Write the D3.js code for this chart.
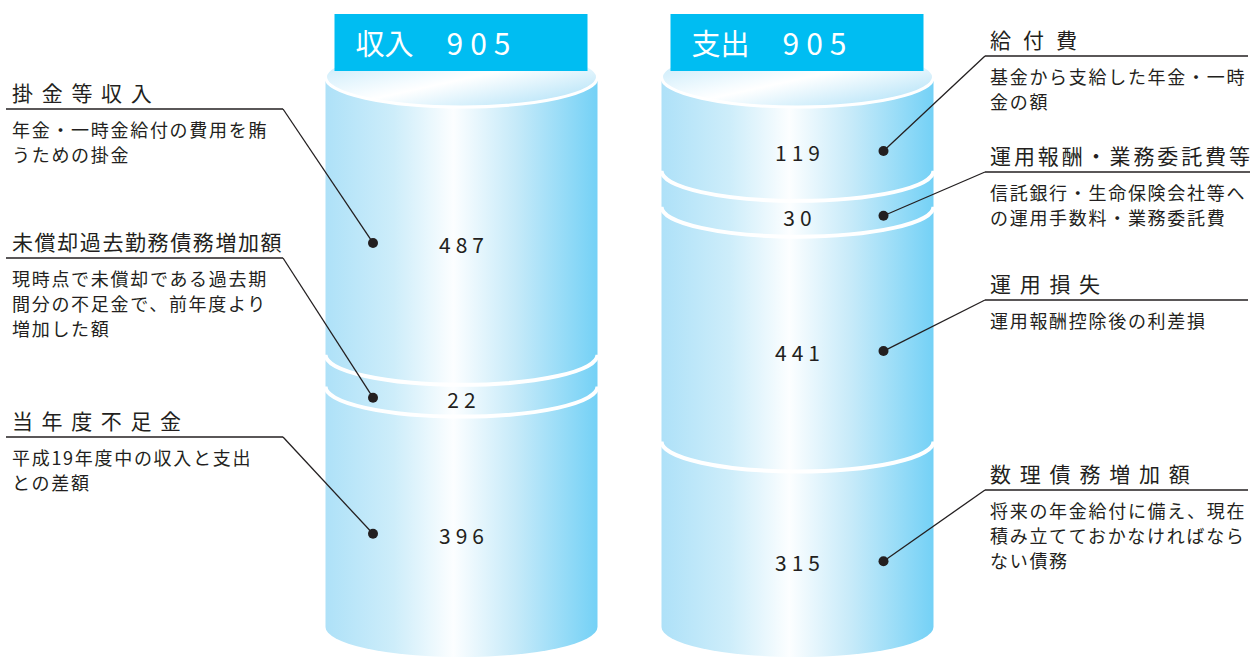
<!DOCTYPE html>
<html>
<head>
<meta charset="utf-8">
<title>収入と支出</title>
<script src="https://d3js.org/d3.v7.min.js"></script>
<style>
  body { margin: 0; background: #fff; }
  text { font-family: "Noto Sans CJK JP", "Noto Sans", sans-serif; fill: #231f20; }
</style>
</head>
<body>
<div id="chart"></div>
<script>
// ---- data ----
var sideNames = ["収入", "支出"];

var incomeLabels = ["掛金等収入", "未償却過去勤務債務増加額", "当年度不足金"];
var incomeValues = [487, 22, 396];
var incomeNotes = [
    ["年金・一時金給付の費用を賄", "うための掛金"],
    ["現時点で未償却である過去期", "間分の不足金で、前年度より", "増加した額"],
    ["平成19年度中の収入と支出", "との差額"]
];

var expenseLabels = ["給付費", "運用報酬・業務委託費等", "運用損失", "数理債務増加額"];
var expenseValues = [119, 30, 441, 315];
var expenseNotes = [
    ["基金から支給した年金・一時", "金の額"],
    ["信託銀行・生命保険会社等へ", "の運用手数料・業務委託費"],
    ["運用報酬控除後の利差損"],
    ["将来の年金給付に備え、現在", "積み立てておかなければなら", "ない債務"]
];

// ---- layout ----
var width = 1260, height = 657;
var rx = 136, ry = 30;
var topY = 77, bottomY = 627;

// where the side notes sit (y of each underline) and title letter spacing
var incomeRuleY = [109, 258, 437];
var expenseRuleY = [56, 172, 300, 490];
var incomeTitleSpacing = [8.7, 1.6, 8.6];
var expenseTitleSpacing = [12, 2.9, 8.7, 8.8];

var svg = d3.select("#chart")
    .append("svg")
    .attr("width", width)
    .attr("height", height);

var defs = svg.append("defs");

var sideGrad = defs.append("linearGradient")
    .attr("id", "side")
    .attr("x1", "0%").attr("y1", "0%")
    .attr("x2", "100%").attr("y2", "0%");
[[0, "#aee1f8"], [0.25, "#cdedfa"], [0.47, "#fcfeff"], [0.7, "#c6eaf9"], [1, "#74d1f6"]]
    .forEach(function(s) {
        sideGrad.append("stop").attr("offset", s[0]).attr("stop-color", s[1]);
    });

var capGrad = defs.append("linearGradient")
    .attr("id", "cap")
    .attr("x1", "0%").attr("y1", "0%")
    .attr("x2", "100%").attr("y2", "100%");
[[0, "#b7e4f8"], [0.45, "#f6fcff"], [0.52, "#ffffff"], [1, "#a6def7"]]
    .forEach(function(s) {
        capGrad.append("stop").attr("offset", s[0]).attr("stop-color", s[1]);
    });

// centre of each cylinder
var cylX = d3.scalePoint().domain(sideNames).range([461.5, 797.5]);

// slice thickness: power scale so thin slices stay readable
var thick = d3.scalePow().exponent(0.7).domain([0, 905]).range([0, 1]);

function drawCylinder(name, values, labels, notes, ruleY, spacing, dir) {
    var cx = cylX(name);
    var total = d3.sum(values);
    var h = values.map(thick);
    var ends = d3.cumsum(h);
    var y = d3.scaleLinear().domain([0, ends[ends.length - 1]]).range([topY, bottomY]);

    var segs = values.map(function(v, i) {
        var y0 = y(ends[i] - h[i]), y1 = y(ends[i]);
        return { value: v, y0: y0, y1: y1, mid: (y0 + y1) / 2 + ry,
                 label: labels[i], note: notes[i], ruleY: ruleY[i], spacing: spacing[i] };
    });

    var g = svg.append("g");

    // body
    g.append("path")
        .attr("d", "M" + (cx - rx) + "," + topY +
                   "L" + (cx - rx) + "," + bottomY +
                   "A" + rx + "," + ry + " 0 0 0 " + (cx + rx) + "," + bottomY +
                   "L" + (cx + rx) + "," + topY + "Z")
        .attr("fill", "url(#side)");

    // white seams between slices
    g.selectAll("path.seam")
        .data(segs.slice(1))
        .enter()
        .append("path")
        .attr("class", "seam")
        .attr("d", function(d) {
            return "M" + (cx - rx) + "," + d.y0 +
                   "A" + rx + "," + ry + " 0 0 0 " + (cx + rx) + "," + d.y0;
        })
        .attr("fill", "none")
        .attr("stroke", "#fff")
        .attr("stroke-width", 4);

    // top cap
    g.append("ellipse")
        .attr("cx", cx).attr("cy", topY)
        .attr("rx", rx).attr("ry", ry)
        .attr("fill", "url(#cap)")
        .attr("stroke", "#fff")
        .attr("stroke-width", 3);

    // header box
    var bx = cx - rx + 9;
    g.append("rect")
        .attr("x", bx).attr("y", 14)
        .attr("width", 253).attr("height", 57)
        .attr("fill", "#00bdf2");
    g.append("text")
        .attr("x", bx + 21).attr("y", 55)
        .style("font-size", "29px")
        .style("fill", "#fff")
        .text(name);
    g.append("text")
        .attr("x", bx + 112).attr("y", 55)
        .style("font-size", "30px")
        .style("letter-spacing", "7px")
        .style("fill", "#fff")
        .text(total);

    // slice values
    g.selectAll("text.val")
        .data(segs)
        .enter()
        .append("text")
        .attr("class", "val")
        .attr("x", cx + 2.5)
        .attr("y", function(d) { return d.mid + 7; })
        .attr("text-anchor", "middle")
        .style("font-size", "21px")
        .style("letter-spacing", "5px")
        .text(function(d) { return d.value; });

    // callouts
    var dotX = dir < 0 ? cx - 88.5 : cx + 86;
    var anchorX = dir < 0 ? 283 : 985;
    var textX = dir < 0 ? 12 : 990;

    var c = g.selectAll("g.note")
        .data(segs)
        .enter()
        .append("g")
        .attr("class", "note");

    c.append("line")
        .attr("x1", anchorX).attr("y1", function(d) { return d.ruleY; })
        .attr("x2", dotX).attr("y2", function(d) { return d.mid - 3; })
        .attr("stroke", "#231f20")
        .attr("stroke-width", 1.3);

    c.append("circle")
        .attr("cx", dotX)
        .attr("cy", function(d) { return d.mid - 3; })
        .attr("r", 5)
        .attr("fill", "#231f20");

    var titles = c.append("text")
        .attr("x", textX)
        .attr("y", function(d) { return d.ruleY - 8; })
        .style("font-size", "21px")
        .style("letter-spacing", function(d) { return d.spacing + "px"; })
        .text(function(d) { return d.label; });

    c.append("line")
        .attr("x1", dir < 0 ? 6 : anchorX)
        .attr("x2", function(d, i) {
            if (dir < 0) return anchorX;
            var w = titles.nodes()[i].getComputedTextLength();
            return Math.min(1260, Math.max(1248, textX + w - d.spacing));
        })
        .attr("y1", function(d) { return d.ruleY; })
        .attr("y2", function(d) { return d.ruleY; })
        .attr("stroke", "#231f20")
        .attr("stroke-width", 1.3);

    c.append("text")
        .attr("x", textX)
        .attr("y", function(d) { return d.ruleY + 28; })
        .style("font-size", "18px")
        .style("letter-spacing", "1.7px")
        .selectAll("tspan")
        .data(function(d) { return d.note; })
        .enter()
        .append("tspan")
        .attr("x", textX)
        .attr("dy", function(d, i) { return i === 0 ? 0 : 25; })
        .text(function(d) { return d; });
}

drawCylinder(sideNames[0], incomeValues, incomeLabels, incomeNotes, incomeRuleY, incomeTitleSpacing, -1);
drawCylinder(sideNames[1], expenseValues, expenseLabels, expenseNotes, expenseRuleY, expenseTitleSpacing, 1);
</script>
</body>
</html>
